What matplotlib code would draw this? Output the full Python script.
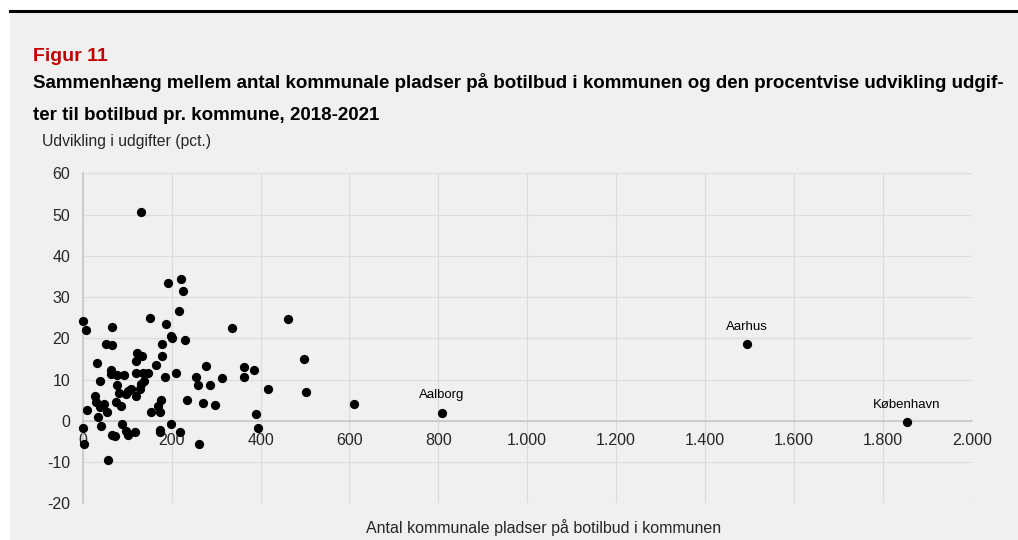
import matplotlib.pyplot as plt
from matplotlib.patches import Rectangle
from matplotlib.lines import Line2D
from matplotlib.ticker import FuncFormatter, MultipleLocator

plt.rcParams["font.family"] = ["Liberation Sans", "DejaVu Sans"]
plt.rcParams["axes.unicode_minus"] = False

# antal kommunale pladser (x) og udvikling i udgifter i pct. (y)
pladser = [
    131, 191, 221, 226, 217, 152, 187, 337, 462, 498,
    1, 7, 66, 52, 67, 179, 199, 201, 230, 32,
    123, 134, 121, 179, 164, 63, 64, 78, 92, 120,
    136, 148, 139, 132, 186, 210, 39, 78, 82, 102,
    108, 98, 120, 130, 254, 260, 278, 286, 313, 362,
    362, 386, 416, 502, 610, 390, 395, 27, 31, 38,
    48, 55, 34, 10, 74, 87, 153, 169, 177, 175,
    235, 270, 297, 1, 4, 42, 67, 72, 88, 98,
    102, 117, 173, 175, 198, 220, 261, 58,
]
udvikling = [
    50.5, 33.3, 34.4, 31.4, 26.7, 25.0, 23.4, 22.6, 24.7, 15.1,
    24.3, 22.1, 22.7, 18.5, 18.3, 18.7, 20.6, 20.1, 19.5, 14.0,
    16.4, 15.8, 14.6, 15.6, 13.5, 12.3, 11.4, 11.2, 11.2, 11.5,
    11.5, 11.5, 9.7, 8.9, 10.5, 11.7, 9.7, 8.7, 6.8, 7.3,
    7.7, 6.5, 5.9, 7.7, 10.6, 8.8, 13.3, 8.8, 10.4, 13.0,
    10.5, 12.3, 7.6, 7.1, 4.0, 1.6, -1.8, 5.9, 4.5, 3.4,
    4.1, 2.1, 1.0, 2.6, 4.5, 3.7, 2.1, 3.7, 5.1, 2.1,
    5.1, 4.2, 3.8, -1.8, -5.7, -1.2, -3.4, -3.6, -0.8, -2.4,
    -3.4, -2.8, -2.2, -2.8, -0.8, -2.6, -5.6, -9.6,
]

# de store kommuner med navn
byer = ["Aalborg", "Aarhus", "København"]
by_pladser = [808, 1494, 1854]
by_udvikling = [2.0, 18.7, -0.2]

W, H = 1018, 540
bg = "#f0f0f0"
grid_col = "#dcdcdc"
txt_col = "#262626"

fig = plt.figure(figsize=(W / 100, H / 100), dpi=100, facecolor="white")
fig.patches.append(Rectangle((10 / W, 0), 1 - 10 / W, 1 - 11 / H,
                             transform=fig.transFigure, facecolor=bg,
                             edgecolor="none", zorder=-10))
fig.lines.append(Line2D([10 / W, 1], [1 - 11 / H, 1 - 11 / H],
                        transform=fig.transFigure, color="black", lw=2.2))

def fy(py):
    return 1 - py / H

fig.text(33 / W, fy(61), "Figur 11", color="#c00000", fontsize=14,
         fontweight="bold", va="baseline")
fig.text(33 / W, fy(88),
         "Sammenhæng mellem antal kommunale pladser på botilbud i kommunen "
         "og den procentvise udvikling udgif-",
         fontsize=13.5, fontweight="bold", va="baseline", color="black")
fig.text(33 / W, fy(120), "ter til botilbud pr. kommune, 2018-2021",
         fontsize=13.5, fontweight="bold", va="baseline", color="black")
fig.text(42 / W, fy(146), "Udvikling i udgifter (pct.)", fontsize=11.3,
         va="baseline", color=txt_col)

ax = fig.add_axes([82.7 / W, 1 - 503.3 / H, (971.7 - 82.7) / W,
                   (503.3 - 173.3) / H])
ax.set_facecolor(bg)
ax.set_xlim(0, 2000)
ax.set_ylim(-20, 60)
ax.xaxis.set_major_locator(MultipleLocator(200))
ax.yaxis.set_major_locator(MultipleLocator(10))
ax.xaxis.set_major_formatter(
    FuncFormatter(lambda v, p: f"{int(v):,}".replace(",", ".")))
ax.grid(True, color=grid_col, lw=0.9)
ax.set_axisbelow(True)

for side in ["top", "right"]:
    ax.spines[side].set_visible(False)
ax.spines["bottom"].set_position(("data", 0))
ax.spines["bottom"].set_color("#c8c8c8")
ax.spines["bottom"].set_linewidth(1.2)
ax.spines["left"].set_color("#c8c8c8")
ax.spines["left"].set_linewidth(1.2)
ax.tick_params(axis="both", length=0, labelsize=11.5, colors=txt_col)
ax.tick_params(axis="x", pad=9)
ax.tick_params(axis="y", pad=9)

ax.scatter(pladser, udvikling, s=32, color="black", zorder=3, clip_on=False)
ax.scatter(by_pladser, by_udvikling, s=32, color="black", zorder=3)
for navn, x, y in zip(byer, by_pladser, by_udvikling):
    ax.annotate(navn, (x, y), xytext=(0, 8), textcoords="offset points",
                ha="center", va="bottom", fontsize=9.5, color="black")

fig.text(544 / W, fy(533), "Antal kommunale pladser på botilbud i kommunen",
         ha="center", va="baseline", fontsize=11.5, color=txt_col)

fig.savefig("out.png", dpi=100, facecolor=fig.get_facecolor())
